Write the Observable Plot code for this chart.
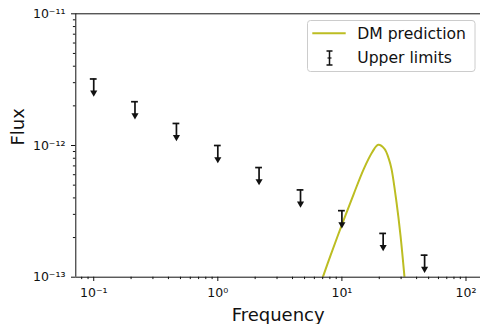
<!DOCTYPE html>
<html>
<head>
<meta charset="utf-8">
<script src="https://cdn.jsdelivr.net/npm/d3@7"></script>
<script src="https://cdn.jsdelivr.net/npm/@observablehq/plot@0.6"></script>
<style>
  html, body { margin: 0; padding: 0; background: white; }
  #wrap { position: relative; width: 480px; height: 324px; overflow: hidden; font-family: "DejaVu Sans", sans-serif; }
  #legend { position: absolute; left: 0; top: 0; }
</style>
</head>
<body>
<div id="wrap"></div>
<script>
// ---- data ----
const freq = [0.1, 0.215, 0.464, 1, 2.15, 4.64, 10, 21.5, 46.4];
const upperLimit = [3.2e-12, 2.15e-12, 1.47e-12, 1.0e-12, 6.8e-13, 4.6e-13, 3.2e-13, 2.15e-13, 1.47e-13];
const dmFreq = [7.02, 8.09, 10.06, 12.47, 15.02, 17.54, 19.61, 22.04, 23.88, 25.10, 27.54, 29.67, 31.95];
const dmFlux = [1.0e-13, 1.46e-13, 2.54e-13, 4.30e-13, 6.65e-13, 8.89e-13, 1.012e-12, 9.44e-13, 7.92e-13, 6.65e-13, 3.71e-13, 2.07e-13, 1.0e-13];
const xMajorTicks = [0.1, 1, 10, 100];
const yMajorTicks = [1e-13, 1e-12, 1e-11];
const legendLabels = ["DM prediction", "Upper limits"];
const xLabel = "Frequency";
const yLabel = "Flux";

// ---- derived tables ----
const limits = freq.map((f, i) => ({f, v: upperLimit[i]}));
const dm = dmFreq.map((f, i) => ({f, v: dmFlux[i]}));
const xDomain = [0.0717, 130.9];
const yDomain = [1e-13, 1e-11];
const minorOf = (lo, hi) => {
  const out = [];
  for (let e = -15; e <= 3; e++) for (let k = 2; k <= 9; k++) {
    const v = k * Math.pow(10, e);
    if (v > lo && v < hi) out.push(v);
  }
  return out;
};
const xMinor = minorOf(xDomain[0], xDomain[1]);
const yMinor = minorOf(yDomain[0], yDomain[1]);
const SUP = {"-": "\u207B", "0": "\u2070", "1": "\u00B9", "2": "\u00B2", "3": "\u00B3", "4": "\u2074", "5": "\u2075", "6": "\u2076", "7": "\u2077", "8": "\u2078", "9": "\u2079"};
const powFmt = d => "10" + String(Math.round(Math.log10(d))).split("").map(c => SUP[c]).join("");

const ARROW = 0.787;   // arrow centroid below the limit (style)
const CAP = 1.065;     // half-width of the cap on a log axis (style)
const ink = "#111";
const dmColor = "#bcbd22";

const chart = Plot.plot({
  width: 480,
  height: 324,
  marginLeft: 75.3,
  marginRight: 0,
  marginTop: 13.3,
  marginBottom: 47.3,
  x: {type: "log", domain: xDomain},
  y: {type: "log", domain: yDomain},
  style: {fontFamily: "DejaVu Sans", fontSize: "12px", background: "white", color: ink},
  marks: [
    Plot.axisX({ticks: xMinor, tickSize: 2.4, tickFormat: () => "", label: null}),
    Plot.axisX({ticks: xMajorTicks, tickSize: 4.3, tickPadding: 7, tickFormat: powFmt, fontSize: 12.5, label: null}),
    Plot.axisY({ticks: yMinor, tickSize: 2.4, tickFormat: () => "", label: null}),
    Plot.axisY({ticks: yMajorTicks, tickSize: 4.3, tickPadding: 6, tickFormat: powFmt, fontSize: 12.5, label: null}),
    Plot.line(dm, {x: "f", y: "v", stroke: dmColor, strokeWidth: 2, curve: "catmull-rom", clip: true}),
    Plot.ruleX(limits, {x: "f", y1: "v", y2: d => d.v * ARROW, stroke: ink, strokeWidth: 1.7}),
    Plot.ruleY(limits, {y: "v", x1: d => d.f / CAP, x2: d => d.f * CAP, stroke: ink, strokeWidth: 1.7}),
    Plot.dot(limits, {x: "f", y: d => d.v * ARROW, symbol: "triangle2", rotate: 180, r: 3.4, fill: ink, stroke: "none"}),
    Plot.ruleX([xDomain[0]], {stroke: ink, strokeWidth: 1}),
    Plot.ruleY(yDomain, {stroke: ink, strokeWidth: 1}),
    Plot.text([xLabel], {frameAnchor: "bottom", lineAnchor: "bottom", dy: 43.3, fontSize: 18, fill: ink}),
    Plot.text([yLabel], {frameAnchor: "left", lineAnchor: "bottom", rotate: -90, dx: -52, fontSize: 18, fill: ink})
  ]
});

const wrap = document.getElementById("wrap");
wrap.appendChild(chart);

// ---- legend ----
const lg = d3.select(wrap).append("svg")
  .attr("id", "legend").attr("width", 480).attr("height", 324)
  .style("font-family", "DejaVu Sans").style("font-size", "15.6px");
lg.append("rect").attr("x", 307.5).attr("y", 20.5).attr("width", 167.5).attr("height", 51)
  .attr("rx", 3).attr("fill", "white").attr("fill-opacity", 0.8).attr("stroke", "#cccccc");
lg.append("line").attr("x1", 312.3).attr("x2", 345.7).attr("y1", 33.3).attr("y2", 33.3)
  .attr("stroke", dmColor).attr("stroke-width", 2);
lg.append("text").attr("x", 357.3).attr("y", 33.3).attr("dy", "0.35em").attr("fill", ink).text(legendLabels[0]);
// errorbar handle
const hx = 329.5;
lg.append("line").attr("x1", hx).attr("x2", hx).attr("y1", 51).attr("y2", 65).attr("stroke", ink).attr("stroke-width", 1.5);
lg.append("line").attr("x1", hx - 3).attr("x2", hx + 3).attr("y1", 51).attr("y2", 51).attr("stroke", ink).attr("stroke-width", 1.5);
lg.append("line").attr("x1", hx - 2).attr("x2", hx + 2).attr("y1", 58).attr("y2", 58).attr("stroke", ink).attr("stroke-width", 1.2);
lg.append("line").attr("x1", hx - 3).attr("x2", hx + 3).attr("y1", 65).attr("y2", 65).attr("stroke", ink).attr("stroke-width", 1.5);
lg.append("text").attr("x", 357.3).attr("y", 57.5).attr("dy", "0.35em").attr("fill", ink).text(legendLabels[1]);
</script>
</body>
</html>
